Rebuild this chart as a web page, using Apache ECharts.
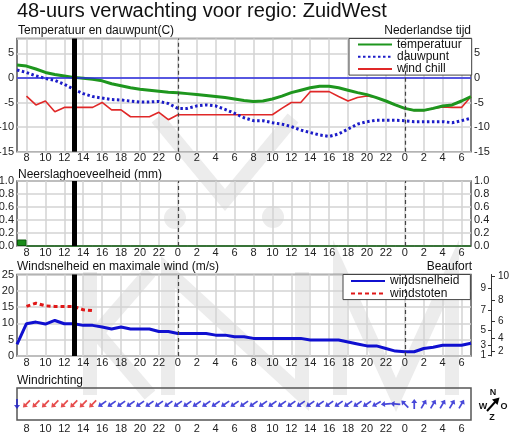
<!DOCTYPE html>
<html><head><meta charset="utf-8">
<script src="https://cdn.jsdelivr.net/npm/echarts@6/dist/echarts.min.js"></script>
<style>html,body{margin:0;padding:0;background:#fff}#c{width:512px;height:439px}</style>
</head><body><div id="c"></div>
<script>
// ---------- data ----------
const hours = [7,8,9,10,11,12,13,14,15,16,17,18,19,20,21,22,23,24,25,26,27,28,29,30,31,32,33,34,35,36,37,38,39,40,41,42,43,44,45,46,47,48,49,50,51,52,53,54,55];
const temperature = [2.6,2.4,1.8,1.1,0.7,0.4,0.1,-0.1,-0.3,-0.6,-1.2,-1.6,-2.0,-2.3,-2.5,-2.7,-2.9,-3.0,-3.2,-3.4,-3.6,-3.8,-4.0,-4.3,-4.6,-4.8,-4.7,-4.3,-3.7,-3.0,-2.5,-2.0,-1.7,-1.7,-2.0,-2.5,-3.0,-3.4,-4.0,-4.7,-5.5,-6.2,-6.6,-6.6,-6.2,-5.7,-5.5,-4.7,-3.8];
const dewpoint = [1.6,1.1,0.4,-0.1,-0.5,-1.3,-2.3,-3.2,-3.8,-4.1,-4.4,-4.5,-4.7,-4.9,-4.9,-4.8,-5.2,-6.2,-6.2,-5.7,-5.5,-5.7,-6.4,-7.2,-8.1,-8.7,-8.7,-9.1,-9.4,-9.9,-10.6,-11.1,-11.6,-11.9,-11.4,-10.4,-9.4,-8.9,-8.6,-8.6,-8.6,-8.7,-8.9,-8.9,-8.9,-8.9,-9.1,-8.7,-8.2];
const windChill = [null,-3.7,-5.5,-4.7,-6.9,-6.0,-6.0,-6.0,-6.0,-5.0,-6.5,-6.5,-7.9,-7.9,-7.9,-7.0,-8.5,-7.5,-7.5,-7.5,-7.5,-7.5,-7.5,-7.5,-7.5,-7.5,-7.5,-7.5,-6.2,-5.0,-5.0,-2.8,-2.8,-2.8,-3.8,-4.7,-4.0,-3.7,-4.0,-4.7,-5.5,-6.2,-6.6,-6.6,-6.2,-5.9,-6.0,-6.0,-3.8];
const precipHours = [7,8,9,10,11,12,13,14,15,16,17,18,19,20,21,22,23,24,25,26,27,28,29,30,31,32,33,34,35,36,37,38,39,40,41,42,43,44,45,46,47,48,49,50,51,52,53,54];
const precip = [0.1,0,0,0,0,0,0,0,0,0,0,0,0,0,0,0,0,0,0,0,0,0,0,0,0,0,0,0,0,0,0,0,0,0,0,0,0,0,0,0,0,0,0,0,0,0,0,0];
const windSpeed = [3.6,9.9,10.4,9.8,10.9,9.9,9.9,9.4,9.4,8.9,8.3,8.9,8.3,8.3,8.3,7.5,7.5,6.9,6.9,6.9,6.9,6.4,6.4,5.9,5.9,5.4,5.4,5.4,5.4,5.4,5.4,4.9,4.9,4.9,4.9,4.3,3.7,3.1,3.1,2.3,1.5,1.3,1.3,2.3,2.7,3.3,3.3,3.3,3.9];
const windGust = [null,15.2,16.2,15.4,15.2,15.2,15.2,14.2,13.9,null,null,null,null,null,null,null,null,null,null,null,null,null,null,null,null,null,null,null,null,null,null,null,null,null,null,null,null,null,null,null,null,null,null,null,null,null,null,null,null];
// wind direction (degrees the wind comes from), hours 7..54
const windDir = [0,45,45,45,45,45,45,45,45,55,55,55,55,55,55,55,55,55,55,55,55,55,55,55,55,55,55,55,55,55,55,55,55,55,55,55,55,55,60,85,95,135,180,210,210,210,210,210];
const beaufortLimits = [0.3,1.6,3.4,5.5,8.0,10.8,13.9,17.2,20.8,24.5];
const nowHour = '13';
const midnights = ['24','48'];

// ---------- styles ----------
const FF = "'Liberation Sans', Arial, Helvetica, sans-serif";
const hourKeys = hours.map(String);
const GREY = '#d3d3d3';
const isEven = (i, v) => (+v) % 2 === 0;

function xAx(gridIndex, margin, split) {
  return {
    type: 'category', gridIndex, data: hourKeys, boundaryGap: false,
    axisLine: {show: false}, axisTick: {show: false},
    axisLabel: {interval: isEven, formatter: v => String((+v) % 24), margin, fontSize: 11, color: '#222', fontFamily: FF, hideOverlap: false},
    splitLine: {show: split, interval: isEven, lineStyle: {color: GREY, width: 1.5}}
  };
}
function yAx(gridIndex, pos, min, max, interval, fmt, split) {
  return {
    type: 'value', gridIndex, position: pos, min, max, interval,
    axisLine: {show: false}, axisTick: {show: false},
    axisLabel: {formatter: fmt, margin: 3, fontSize: 11, color: '#222', fontFamily: FF},
    splitLine: {show: split, lineStyle: {color: GREY, width: 1.5}}
  };
}
const tempFmt = v => (v % 5 === 0 ? String(v) : '');
const precFmt = v => v.toFixed(1);
const bftOdd = beaufortLimits.filter((v, i) => i % 2 === 0);
const bftEven = beaufortLimits.filter((v, i) => i % 2 === 1);
const bftFmt = v => String(beaufortLimits.indexOf(v) + 1);

const dashLines = midnights.map(m => ({xAxis: m, lineStyle: {color: '#444', width: 1.2, type: [4, 3]}}));
const nowLine = {xAxis: nowHour, lineStyle: {color: '#000', width: 5, type: 'solid'}};
function ml(items) {
  return {silent: true, symbol: ['none', 'none'], label: {show: false}, animation: false, data: items};
}

const arrowPath = 'path://M3,0 L6.5,4.5 L4,4.5 L4,11 L2,11 L2,4.5 L-0.5,4.5 Z';
const arrowData = windDir.map((d, i) => ({
  value: [i, 0.5],
  symbolRotate: -(d + 180),
  itemStyle: {color: windGust[i] != null ? '#e02020' : '#1a1ad0'}
}));

function txt(x, y, text, size, align, weight) {
  return {type: 'text', x, y, silent: true, style: {text, fontSize: size, fontFamily: FF, fontWeight: weight || 'normal', fill: '#111', align: align || 'left', verticalAlign: 'middle'}};
}
const wm = {stroke: '#ececec', lineWidth: 14, fill: null, lineJoin: 'miter'};
const legendBase = {
  orient: 'vertical', backgroundColor: '#fff', borderColor: '#444', borderWidth: 1, selectedMode: false,
  itemStyle: {opacity: 0, borderWidth: 0},
  textStyle: {fontSize: 12, lineHeight: 11, color: '#111', fontFamily: FF}
};

const option = {
  animation: false,
  backgroundColor: '#fff',
  textStyle: {fontFamily: FF},
  grid: [
    {left: 17, right: 41, top: 38.5, height: 113.2, show: true, borderColor: '#555', borderWidth: 1.5, outerBoundsMode: 'none'},
    {left: 17, right: 41, top: 181, height: 65, show: true, borderColor: '#555', borderWidth: 1.5, outerBoundsMode: 'none'},
    {left: 17, right: 41, top: 274.5, height: 81.5, show: true, borderColor: '#555', borderWidth: 1.5, outerBoundsMode: 'none'},
    {left: 17, right: 41, top: 388, height: 32, show: true, borderColor: '#555', borderWidth: 1.5, outerBoundsMode: 'none'}
  ],
  xAxis: [
    xAx(0, 1, true), xAx(1, 1, true), xAx(2, 1, true), xAx(3, 3, false),
    {type: 'category', gridIndex: 1, data: precipHours.map(String), boundaryGap: true, show: false}
  ],
  yAxis: [
    yAx(0, 'left', -15, 8, 5, tempFmt, true),
    yAx(0, 'right', -15, 8, 5, tempFmt, false),
    yAx(1, 'left', 0, 1, 0.2, precFmt, true),
    yAx(1, 'right', 0, 1, 0.2, precFmt, false),
    yAx(2, 'left', 0, 25, 5, v => String(v), true),
    {type: 'value', gridIndex: 2, position: 'right', offset: 20, min: 0, max: 25,
      axisLine: {show: true, lineStyle: {color: '#333', width: 1}},
      axisTick: {show: true, inside: true, length: 3, customValues: bftOdd, lineStyle: {color: '#333'}},
      axisLabel: {inside: true, margin: 5, customValues: bftOdd, formatter: bftFmt, fontSize: 10, color: '#222', fontFamily: FF},
      splitLine: {show: false}},
    {type: 'value', gridIndex: 2, position: 'right', offset: 20, min: 0, max: 25,
      axisLine: {show: false},
      axisTick: {show: true, inside: false, length: 4, customValues: bftEven, lineStyle: {color: '#333'}},
      axisLabel: {inside: false, margin: 7, customValues: bftEven, formatter: bftFmt, fontSize: 10, color: '#222', fontFamily: FF},
      splitLine: {show: false}},
    {type: 'value', gridIndex: 3, min: 0, max: 1, show: false}
  ],
  legend: [
    Object.assign({}, legendBase, {data: ['temperatuur', 'dauwpunt', 'wind chill'], left: 349, top: 38.5,
      padding: [0, 10, 0, 8], itemGap: 0.3, itemWidth: 34, itemHeight: 11}),
    Object.assign({}, legendBase, {data: ['windsnelheid', 'windstoten'], left: 343, top: 274.5,
      padding: [0.5, 11, 0, 7], itemGap: 0.6, itemWidth: 34, itemHeight: 11})
  ],
  series: [
    {name: 'wind chill', type: 'line', xAxisIndex: 0, yAxisIndex: 0, data: windChill, symbol: 'none', z: 2,
      color: '#e02828', lineStyle: {color: '#e02828', width: 1.6},
      markLine: ml([{yAxis: 0, lineStyle: {color: '#2a2ae0', width: 1.5, type: 'solid'}}].concat(dashLines))},
    {name: 'dauwpunt', type: 'line', xAxisIndex: 0, yAxisIndex: 0, data: dewpoint, symbol: 'none', z: 3,
      color: '#1c1cc8', lineStyle: {color: '#1c1cc8', width: 3, type: [2.5, 2.5], cap: 'butt'}},
    {name: 'temperatuur', type: 'line', xAxisIndex: 0, yAxisIndex: 0, data: temperature, symbol: 'none', z: 4,
      color: '#1e961e', lineStyle: {color: '#1e961e', width: 3},
      markLine: ml([nowLine])},
    {name: 'neerslag', type: 'bar', xAxisIndex: 4, yAxisIndex: 2, data: precip, barCategoryGap: '0%', z: 3,
      itemStyle: {color: '#1a8c1a', borderColor: '#0c5a0c', borderWidth: 1}},
    {name: 'neerslag-markers', type: 'line', xAxisIndex: 1, yAxisIndex: 2, data: [], symbol: 'none', z: 4,
      markLine: ml(dashLines.concat([nowLine]))},
    {name: 'windstoten', type: 'line', xAxisIndex: 2, yAxisIndex: 4, data: windGust, symbol: 'none', z: 3,
      color: '#e01818', lineStyle: {color: '#e01818', width: 3, type: [4, 3]}},
    {name: 'windsnelheid', type: 'line', xAxisIndex: 2, yAxisIndex: 4, data: windSpeed, symbol: 'none', z: 4,
      color: '#1010d0', lineStyle: {color: '#1010d0', width: 3},
      markLine: ml(dashLines.concat([nowLine]))},
    {name: 'windrichting', type: 'scatter', xAxisIndex: 3, yAxisIndex: 7, data: arrowData,
      symbol: arrowPath, symbolSize: [6, 10], z: 4}
  ],
  graphic: [
    {type: 'polyline', z: -1, silent: true, shape: {points: [[157, 118], [225, 200], [293, 118]]}, style: wm},
    {type: 'circle', z: -1, silent: true, shape: {cx: 175, cy: 218, r: 11}, style: {fill: '#ececec'}},
    {type: 'circle', z: -1, silent: true, shape: {cx: 273, cy: 217, r: 11}, style: {fill: '#ececec'}},
    {type: 'polyline', z: -1, silent: true, shape: {points: [[90, 272], [90, 395]]}, style: wm},
    {type: 'polyline', z: -1, silent: true, shape: {points: [[150, 272], [97, 333], [150, 395]]}, style: wm},
    {type: 'polyline', z: -1, silent: true, shape: {points: [[168, 395], [168, 272], [302, 395], [302, 272]]}, style: wm},
    {type: 'polyline', z: -1, silent: true, shape: {points: [[340, 395], [340, 272], [396, 395], [452, 272], [452, 395]]}, style: wm},
    txt(17, 11, '48-uurs verwachting voor regio: ZuidWest', 20),
    txt(18, 31, 'Temperatuur en dauwpunt(C)', 12),
    txt(471, 31, 'Nederlandse tijd', 12, 'right'),
    txt(18, 174.5, 'Neerslaghoeveelheid (mm)', 12),
    txt(17, 267, 'Windsnelheid en maximale wind (m/s)', 12),
    txt(472, 267, 'Beaufort', 12, 'right'),
    txt(17, 381, 'Windrichting', 12),
    txt(493, 393, 'N', 9, 'center', 'bold'),
    txt(483, 407, 'W', 9, 'center', 'bold'),
    txt(504, 407, 'O', 9, 'center', 'bold'),
    txt(492, 418, 'Z', 9, 'center', 'bold'),
    {type: 'line', silent: true, shape: {x1: 487, y1: 411, x2: 496, y2: 401}, style: {stroke: '#000', lineWidth: 2}},
    {type: 'polygon', silent: true, shape: {points: [[499.5, 397.5], [492, 399.5], [497.5, 405]]}, style: {fill: '#000'}}
  ]
};
const chart = echarts.init(document.getElementById('c'), null, {renderer: 'canvas'});
chart.setOption(option);
</script>
</body></html>
